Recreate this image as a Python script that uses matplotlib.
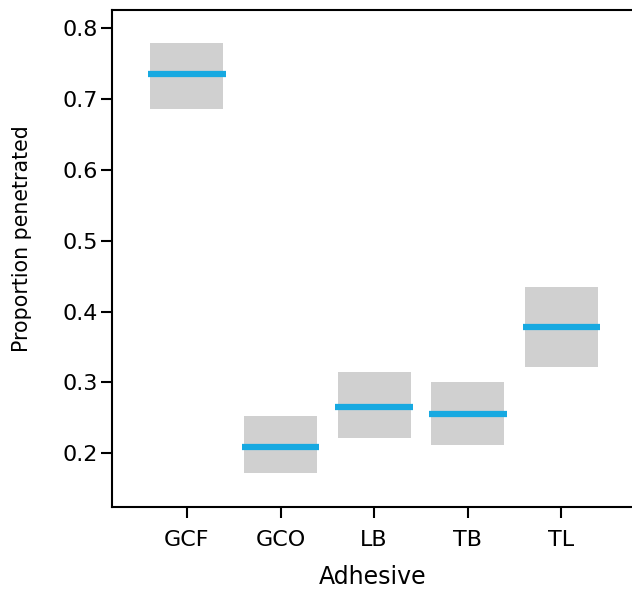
import matplotlib.pyplot as plt
import numpy as np

plt.rcParams['font.family'] = ['DejaVu Sans']

adhesives = ['GCF', 'GCO', 'LB', 'TB', 'TL']
mean_prop = [0.7355, 0.2093, 0.2649, 0.2552, 0.3779]
lower_ci = [0.6856, 0.1718, 0.2212, 0.2112, 0.3214]
upper_ci = [0.7788, 0.2527, 0.3144, 0.3012, 0.4348]

fig = plt.figure(figsize=(6.32, 5.89), dpi=100)
# right edge of the axes sits just past the image border, like the source
ax = fig.add_axes([0.1772, 0.1397, 0.84, 0.8433])

x = np.arange(len(adhesives))
heights = [u - l for u, l in zip(upper_ci, lower_ci)]
ax.bar(x, heights, bottom=lower_ci, width=0.78, color='#d0d0d0', zorder=1)
ax.hlines(mean_prop, x - 0.415, x + 0.415, colors='#17a9e1', linewidth=4.5, zorder=2)

ax.set_xlim(-0.8, 4.87)
ax.set_ylim(0.1246, 0.8259)
ax.set_xticks(x)
ax.set_xticklabels(adhesives)
ax.set_yticks([0.2, 0.3, 0.4, 0.5, 0.6, 0.7, 0.8])
ax.set_yticklabels(['0.2', '0.3', '0.4', '0.5', '0.6', '0.7', '0.8'])

for s in ax.spines.values():
    s.set_linewidth(1.5)
ax.spines['right'].set_visible(False)
ax.tick_params(axis='both', labelsize=16, width=1.5, length=8)
ax.tick_params(axis='y', pad=2)
ax.tick_params(axis='x', pad=9)

ax.set_xlabel('Adhesive', fontsize=17)
ax.set_ylabel('Proportion penetrated', fontsize=14.8)
ax.xaxis.set_label_coords(0.4915, -0.118)
ax.yaxis.set_label_coords(-0.15, 0.539)

fig.savefig('out.png', dpi=100)
